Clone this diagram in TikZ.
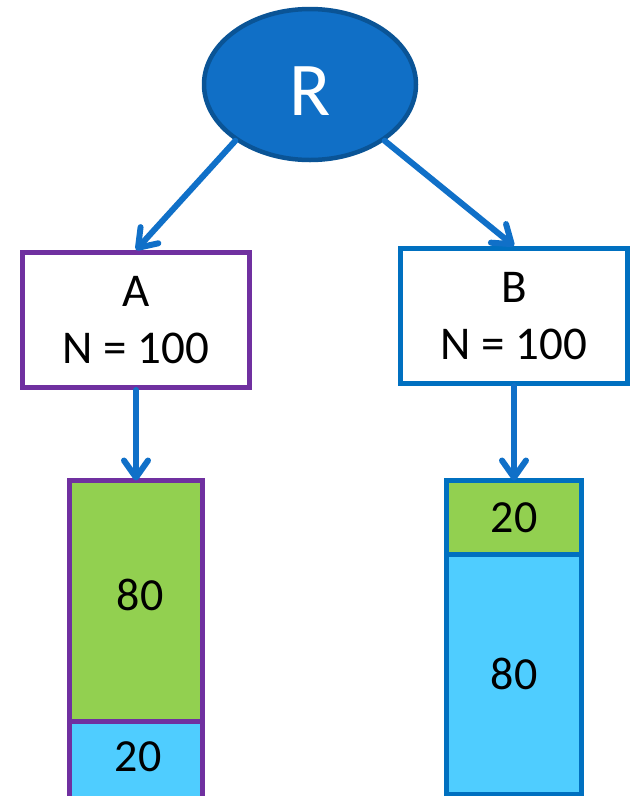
\documentclass[tikz,border=0pt]{standalone}
\usepackage{fontspec}
\setmainfont{Carlito}
\usetikzlibrary{shapes.geometric,arrows.meta}
\definecolor{rootfill}{RGB}{16,111,198}
\definecolor{rootedge}{RGB}{10,84,150}
\definecolor{arrowblue}{RGB}{16,112,200}
\definecolor{purp}{RGB}{112,48,160}
\definecolor{boxblue}{RGB}{0,112,192}
\definecolor{barGreen}{RGB}{146,208,80}
\definecolor{barCyan}{RGB}{79,205,255}
\begin{document}
\begin{tikzpicture}[x=1pt,y=-1pt,
  link/.style={draw=arrowblue,line width=6pt,line cap=round,
    -{Straight Barb[length=17pt,width=24pt,round]}},
  infobox/.style={rectangle,line width=5pt,fill=white,minimum width=227pt,
    minimum height=135pt,align=center,inner sep=0pt,
    font=\fontsize{47}{57}\selectfont},
  seg/.style={rectangle,line width=5pt,inner sep=0pt,outer sep=0pt,anchor=north,
    font=\fontsize{46}{53}\selectfont},
  num/.style={inner sep=0pt,font=\fontsize{46}{53}\selectfont}
]
\useasboundingbox (0,0) rectangle (635,796);

% root
\node[ellipse,draw=rootedge,fill=rootfill,line width=4.5pt,minimum width=212pt,
  minimum height=151pt,inner sep=0pt,text=white,text height=61pt,
  font=\fontsize{76}{80}\selectfont] (R) at (310,84.5) {R};

% groups
\node[infobox,draw=purp] (A) at (136,320) {A\\N = 100};
\node[infobox,draw=boxblue] (B) at (514,316) {B\\N = 100};

% left bar
\node[seg,draw=purp,fill=barGreen,minimum width=133pt,minimum height=240.5pt] (LG) at (136,480.5) {};
\node[seg,draw=purp,fill=barCyan,minimum width=133pt,minimum height=80pt] (LC) at (LG.south) {};
\node[num] (LGt) at (140,595) {80};
\node[num] (LCt) at (138,757) {20};

% right bar
\node[seg,draw=boxblue,fill=barGreen,minimum width=135pt,minimum height=73.5pt] (RG) at (514,480.5) {20};
\node[seg,draw=boxblue,fill=barCyan,minimum width=135pt,minimum height=240pt] (RC) at (RG.south) {80};

% connectors
\draw[link] (R.217) -- (A.north);
\draw[link] (R.323) -- (B.north);
\draw[link] (A.south) -- (LG.north);
\draw[link] (B.south) -- (RG.north);
\end{tikzpicture}
\end{document}
